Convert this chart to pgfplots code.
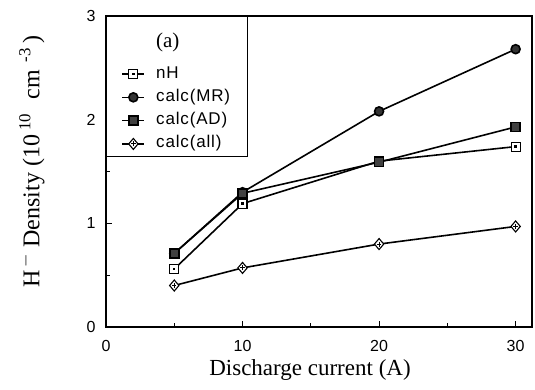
\documentclass[border=0pt]{standalone}
\usepackage{fontspec}
\setmainfont{Liberation Serif}
\setsansfont{Liberation Sans}
\newfontfamily\legfont[LetterSpace=5]{Liberation Sans}
\usepackage{pgfplots}
\pgfplotsset{compat=1.18}
\pgfdeclareplotmark{sqdot}{%
  \begin{pgfscope}%
  \pgfpathrectangle{\pgfqpoint{-\pgfplotmarksize}{-\pgfplotmarksize}}{\pgfqpoint{2\pgfplotmarksize}{2\pgfplotmarksize}}%
  \pgfusepathqfillstroke
  \pgfsetfillcolor{black}%
  \pgfpathrectangle{\pgfqpoint{-1.2pt}{-1.2pt}}{\pgfqpoint{2.4pt}{2.4pt}}%
  \pgfusepathqfill
  \end{pgfscope}}
\pgfdeclareplotmark{dmdplus}{%
  \pgfpathmoveto{\pgfqpoint{0pt}{\pgfplotmarksize}}%
  \pgfpathlineto{\pgfqpoint{0.85\pgfplotmarksize}{0pt}}%
  \pgfpathlineto{\pgfqpoint{0pt}{-\pgfplotmarksize}}%
  \pgfpathlineto{\pgfqpoint{-0.85\pgfplotmarksize}{0pt}}%
  \pgfpathclose
  \pgfusepathqfillstroke
  \pgfpathmoveto{\pgfqpoint{-0.4\pgfplotmarksize}{0pt}}\pgfpathlineto{\pgfqpoint{0.4\pgfplotmarksize}{0pt}}%
  \pgfpathmoveto{\pgfqpoint{0pt}{-0.45\pgfplotmarksize}}\pgfpathlineto{\pgfqpoint{0pt}{0.45\pgfplotmarksize}}%
  \pgfusepathqstroke}
\begin{document}
\begin{tikzpicture}[x=1pt,y=1pt]
\path[use as bounding box] (0,0) rectangle (535,390);
\begin{axis}[
  at={(106pt,63pt)}, anchor=south west,
  width=426pt, height=311pt, scale only axis,
  xmin=0, xmax=31.2, ymin=0, ymax=3,
  xtick={0,10,20,30}, minor xtick={5,15,25},
  ytick={0,1,2,3}, minor ytick={0.5,1.5,2.5},
  tick pos=left, tick align=inside,
  major tick length=6pt, minor tick length=4pt,
  axis line style={line width=1.4pt},
  every tick/.style={line width=1.1pt, black},
  /pgf/number format/assume math mode=true,
  ticklabel style={font=\sffamily\fontsize{16}{18}\selectfont},
  yticklabel style={xshift=-7pt},
  xticklabel style={yshift=-10pt},
  xlabel={Discharge current (A)},
  xlabel style={font=\fontsize{23}{26}\selectfont, at={(axis description cs:0.5,0)}, anchor=center, yshift=-43pt, xshift=-9pt},
  ylabel={H\textsuperscript{\,$-$} Density (10\,\textsuperscript{10}\,\, cm\,\,\textsuperscript{-3}\,)},
  ylabel style={font=\fontsize{24}{26}\selectfont, at={(axis description cs:-0.174,0.532)}, anchor=center},
  legend style={at={(0,1)}, anchor=north west, draw=black, line width=1.1pt,
    font=\legfont\fontsize{17}{20}\selectfont, inner xsep=15pt, inner ysep=5pt,
    row sep=7.3pt, column sep=9pt, cells={anchor=west},
    nodes={inner ysep=0pt, text height=12pt, text depth=4pt}},
  legend image code/.code={\draw[mark repeat=2,mark phase=2,#1] plot coordinates {(0pt,0pt)(11pt,0pt)(22pt,0pt)};},
  every axis plot/.append style={black, line width=1.6pt},
]
\addlegendimage{empty legend}
\addlegendentry[text height=26pt, text depth=11.2pt]{\rmfamily\fontsize{21}{22}\selectfont (a)}
\addplot[mark=sqdot, mark size=4.5pt, mark options={fill=white, line width=1.1pt}] coordinates {(5,0.56) (10,1.19) (20,1.60) (30,1.74)};
\addlegendentry{nH\hspace{-16pt}}
\addplot[mark=*, mark size=4.5pt, mark options={fill=black!80}] coordinates {(5,0.71) (10,1.30) (20,2.08) (30,2.68)};
\addlegendentry{calc(MR)\hspace{-16pt}}
\addplot[mark=square*, mark size=4.5pt, mark options={fill=black!75}] coordinates {(5,0.71) (10,1.29) (20,1.59) (30,1.93)};
\addlegendentry{calc(AD)\hspace{-16pt}}
\addplot[mark=dmdplus, mark size=5.5pt, mark options={fill=white, line width=1.1pt}] coordinates {(5,0.40) (10,0.57) (20,0.80) (30,0.97)};
\addlegendentry{calc(all)\hspace{-16pt}}
\end{axis}
\end{tikzpicture}
\end{document}
